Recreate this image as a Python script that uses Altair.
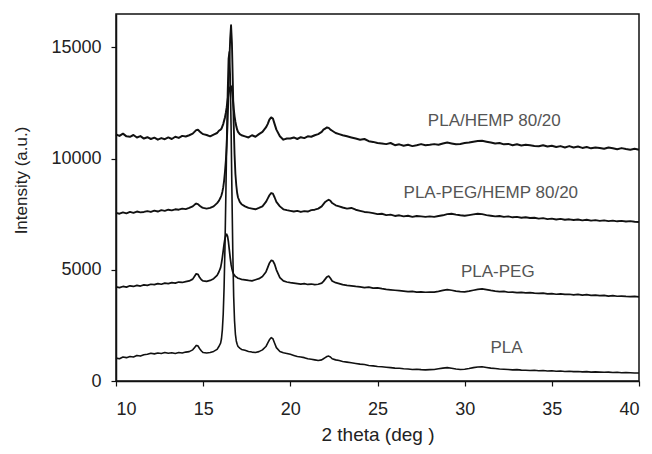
import altair as alt
import pandas as pd

# 2-theta sampling positions (deg)
X_DEG = [
    10.0, 10.2, 10.4, 10.6, 10.8, 11.0, 11.2, 11.4, 11.6, 11.8, 12.0, 12.2, 12.4, 12.6, 12.8, 13.0, 13.2, 13.4, 13.6, 13.8, 14.0,
    14.2, 14.4, 14.5, 14.6, 14.7, 14.8, 14.9, 15.0, 15.2, 15.4, 15.6, 15.8, 15.9,
    16.0, 16.05, 16.1, 16.15, 16.2, 16.25, 16.3, 16.35, 16.4, 16.45, 16.5, 16.55, 16.6, 16.65, 16.7, 16.75, 16.8, 16.85, 16.9, 16.95, 17.0,
    17.1, 17.2, 17.4, 17.6, 17.8, 18.0, 18.2, 18.4, 18.6, 18.7, 18.8, 18.9, 19.0, 19.1, 19.2, 19.4, 19.6, 19.8,
    20.0, 20.2, 20.4, 20.6, 20.8, 21.0, 21.2, 21.4, 21.6, 21.8, 21.9, 22.0, 22.1, 22.2, 22.3, 22.4, 22.6, 22.8,
    23.0, 23.25, 23.5, 23.75, 24.0, 24.25, 24.5, 24.75, 25.0, 25.25, 25.5, 25.75, 26.0, 26.25, 26.5, 26.75, 27.0, 27.25, 27.5, 27.75, 28.0,
    28.25, 28.5, 28.75, 29.0, 29.25, 29.5, 29.75, 30.0, 30.25, 30.5, 30.75, 31.0, 31.25, 31.5, 31.75, 32.0, 32.25, 32.5, 32.75, 33.0, 33.25, 33.5, 33.75, 34.0,
    34.25, 34.5, 34.75, 35.0, 35.25, 35.5, 35.75, 36.0, 36.25, 36.5, 36.75, 37.0, 37.25, 37.5, 37.75, 38.0, 38.25, 38.5, 38.75, 39.0, 39.25, 39.5, 39.75, 40.0,
]

PLA_HEMP = [
    11080, 11020, 11120, 11000, 10980, 11060, 10950, 11010, 10900, 10960, 10880, 10940, 10850, 10920, 10870, 10950, 10880, 10980, 10930, 11020, 10990,
    11050, 11120, 11200, 11280, 11300, 11220, 11150, 11100, 11060, 11000, 11080, 11150, 11250,
    11300, 11350, 11450, 11550, 11700, 11850, 12050, 12300, 12600, 12900, 13100, 13200, 13250, 13100, 12700, 12250, 11900, 11650, 11450, 11300, 11200,
    11100, 11050, 11000, 10950, 11050, 10980, 11100, 11200, 11400, 11550, 11750, 11850, 11800, 11550, 11300, 11000, 10850, 10900,
    10900, 10950, 10880, 10960, 10920, 11000, 10980, 11050, 11100, 11200, 11300, 11350, 11400, 11380, 11300, 11250, 11150, 11100,
    11050, 11000, 10950, 10900, 10850, 10880, 10780, 10750, 10700, 10680, 10650, 10700, 10600, 10640, 10580, 10620, 10560, 10600, 10650, 10600, 10620,
    10650, 10620, 10680, 10720, 10680, 10640, 10660, 10700, 10720, 10760, 10790, 10800, 10760, 10720, 10680, 10700, 10640, 10660, 10600, 10640, 10590, 10620, 10600, 10570,
    10550, 10600, 10540, 10580, 10520, 10560, 10500, 10560, 10500, 10540, 10480, 10520, 10460, 10500, 10480, 10440, 10500, 10460, 10420, 10470, 10430, 10400, 10440, 10400,
]

PLA_PEG_HEMP = [
    7560, 7520, 7580, 7540, 7600, 7560, 7620, 7580, 7600, 7640, 7600, 7660, 7620, 7680, 7650, 7700, 7670, 7720, 7700, 7750, 7730,
    7780, 7850, 7920, 7980, 7950, 7880, 7820, 7780, 7750, 7780, 7850, 8000, 8100,
    8250, 8350, 8500, 8700, 9000, 9400, 9900, 10600, 11600, 12900, 14300, 15400, 16000, 15200, 13500, 11600, 10200, 9300, 8800, 8450, 8250,
    8050, 7950, 7850, 7780, 7750, 7720, 7780, 7850, 8050, 8200, 8350, 8450, 8420, 8250, 8050, 7850, 7720, 7680,
    7650, 7620, 7650, 7600, 7640, 7620, 7680, 7700, 7750, 7850, 7950, 8050, 8100, 8150, 8100, 8000, 7900, 7850,
    7800, 7750, 7780, 7700, 7650, 7600, 7580, 7550, 7500, 7520, 7460, 7480, 7420, 7450, 7400, 7430, 7380, 7420, 7400, 7380, 7400,
    7380, 7420, 7450, 7500, 7520, 7480, 7450, 7430, 7460, 7490, 7520, 7500, 7460, 7430, 7400, 7420, 7380, 7400, 7360, 7380, 7340, 7360, 7330, 7340,
    7300, 7320, 7280, 7300, 7260, 7290, 7250, 7270, 7240, 7260, 7220, 7250, 7210, 7230, 7200, 7220, 7190, 7210, 7180, 7200, 7170, 7190, 7160, 7150,
]

PLA_PEG = [
    4230, 4200, 4250, 4220, 4280, 4250, 4300, 4270, 4320, 4300, 4350, 4330, 4380, 4350, 4400, 4380, 4420, 4400, 4450, 4430, 4470,
    4500, 4580, 4700, 4820, 4800, 4650, 4550, 4500, 4480, 4520, 4600, 4750, 4900,
    5100, 5300, 5550, 5850, 6150, 6400, 6550, 6600, 6500, 6250, 5900, 5550, 5250, 5050, 4900, 4800, 4750, 4700, 4680, 4650, 4620,
    4600, 4570, 4550, 4520, 4500, 4550, 4600, 4700, 4900, 5100, 5300, 5420, 5400, 5250, 5000, 4650, 4500, 4450,
    4420, 4400, 4380, 4360, 4380, 4340, 4360, 4330, 4350, 4400, 4480, 4580, 4680, 4720, 4620, 4500, 4420, 4380,
    4330, 4300, 4280, 4250, 4230, 4200, 4220, 4180, 4190, 4150, 4120, 4100, 4080, 4060, 4040, 4020, 4030, 4000, 4010, 3990, 4000,
    4000, 4030, 4070, 4110, 4080, 4040, 4020, 4010, 4040, 4080, 4120, 4140, 4110, 4070, 4040, 4020, 4030, 3990, 4000, 3970, 3980, 3960, 3970, 3950,
    3940, 3950, 3920, 3930, 3900, 3920, 3890, 3900, 3870, 3890, 3860, 3880, 3850, 3860, 3840, 3850, 3820, 3840, 3810, 3820, 3800, 3790, 3800, 3780,
]

PLA = [
    1030, 1000, 1080, 1050, 1100, 1080, 1150, 1120, 1180, 1200, 1250, 1220, 1260, 1240, 1280, 1250, 1270, 1240, 1280, 1260, 1300,
    1320, 1400, 1500, 1600, 1580, 1450, 1350, 1280, 1260, 1280, 1330, 1420, 1550,
    1700, 1900, 2300, 3000, 4200, 6000, 8300, 10800, 13000, 14500, 14800, 13800, 11500, 8500, 5800, 3800, 2700, 2100, 1800, 1650, 1550,
    1480, 1420, 1380, 1330, 1300, 1280, 1320, 1400, 1550, 1700, 1850, 1950, 1900, 1700, 1500, 1330, 1270, 1240,
    1200, 1150, 1100, 1080, 1050, 1000, 980, 950, 920, 950, 1000, 1050, 1100, 1120, 1080, 1000, 950, 920,
    880, 850, 820, 790, 760, 740, 700, 680, 650, 640, 620, 600, 580, 570, 550, 540, 520, 530, 510, 500, 510,
    520, 550, 580, 600, 570, 540, 520, 530, 560, 600, 630, 640, 610, 580, 560, 540, 530, 520, 500, 510, 490, 480, 470, 480,
    460, 470, 450, 460, 440, 450, 430, 440, 420, 430, 410, 420, 400, 410, 400, 390, 400, 380, 390, 370, 380, 370, 360, 360,
]

SERIES = ["PLA/HEMP 80/20", "PLA-PEG/HEMP 80/20", "PLA-PEG", "PLA"]
LABEL_X = [31.7, 31.5, 31.9, 32.4]
LABEL_Y = [11670, 8470, 4910, 1490]
X_TICKS = [10, 15, 20, 25, 30, 35, 40]
Y_TICKS = [0, 5000, 10000, 15000]

rows = []
for name, ys in zip(SERIES, [PLA_HEMP, PLA_PEG_HEMP, PLA_PEG, PLA]):
    assert len(ys) == len(X_DEG), (name, len(ys), len(X_DEG))
    for xv, yv in zip(X_DEG, ys):
        rows.append({"series": name, "x": xv, "y": yv})
df = pd.DataFrame(rows)
labels = pd.DataFrame({"series": SERIES, "x": LABEL_X, "y": LABEL_Y})

FONT = "Liberation Sans"
x_scale = alt.Scale(domain=[10, 40], nice=False, zero=False)
y_scale = alt.Scale(domain=[0, 16500], nice=False)

lines = alt.Chart(df).mark_line(color="#111111", strokeJoin="round").encode(
    x=alt.X("x:Q", scale=x_scale,
            axis=alt.Axis(values=X_TICKS, title="2 theta (deg )", labelPadding=14,
                          titlePadding=7, titleFontSize=19, format="d")),
    y=alt.Y("y:Q", scale=y_scale,
            axis=alt.Axis(values=Y_TICKS, title="Intensity (a.u.)", labelPadding=10,
                          format="d", titleX=-95, titleY=166, titleBaseline="middle",
                          titleAlign="center", titleAngle=270)),
    detail="series:N",
    strokeWidth=alt.StrokeWidth("series:N", scale=alt.Scale(domain=SERIES, range=[2.0, 1.6, 1.3, 1.3]), legend=None),
    order=alt.Order("x:Q"),
)

texts = alt.Chart(labels).mark_text(font=FONT, fontSize=17, color="#555555", align="center", baseline="middle").encode(
    x=alt.X("x:Q", scale=x_scale),
    y=alt.Y("y:Q", scale=y_scale),
    text="series:N",
)

chart = (
    alt.layer(lines, texts)
    .properties(
        width=523,
        height=367,
        padding={"left": 116, "top": 14, "right": 13, "bottom": 73},
        autosize=alt.AutoSizeParams(type="none"),
        background="white",
    )
    .configure_view(stroke="#111111", strokeWidth=1.5)
    .configure_axis(
        grid=False,
        domainColor="#111111",
        domainWidth=1.5,
        tickColor="#111111",
        tickSize=5,
        tickWidth=1.2,
        labelFont=FONT,
        labelFontSize=18,
        labelColor="#222222",
        titleFont=FONT,
        titleFontSize=17,
        titleFontWeight="normal",
        titleColor="#222222",
    )
)

chart.save("out.html", embed_options={"renderer": "svg", "actions": False})
